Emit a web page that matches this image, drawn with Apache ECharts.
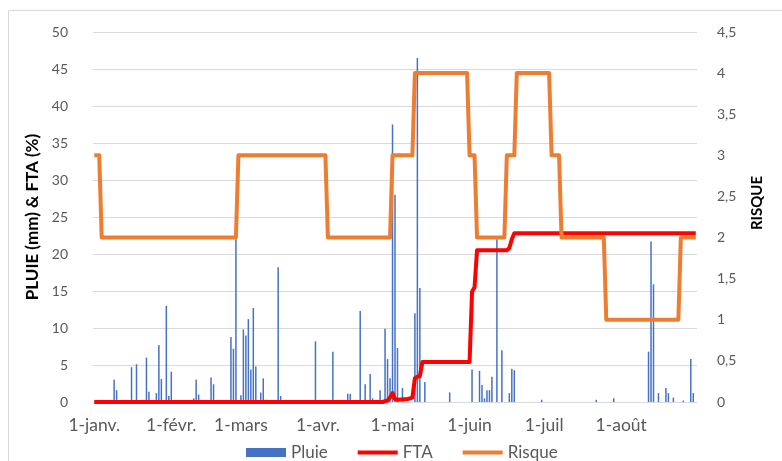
<!DOCTYPE html>
<html>
<head>
<meta charset="utf-8">
<script src="https://cdn.jsdelivr.net/npm/echarts@6/dist/echarts.min.js"></script>
<style>
html,body{margin:0;padding:0;background:#fff;}
#c{width:782px;height:461px;}
</style>
</head>
<body>
<div id="c"></div>
<script>
// ---- Data ----
const monthNames = ['janv.', 'févr.', 'mars', 'avr.', 'mai', 'juin', 'juil', 'août'];
const monthLengths = [31, 28, 31, 30, 31, 30, 31, 31];

// Rain (mm): day index (0 = 1 Jan) and value
const pluieDays = [3, 8, 9, 15, 17, 21, 22, 25, 26, 27, 29, 30, 31, 40, 41, 42, 43, 47, 48, 55, 56, 57, 59, 60, 61, 62, 63, 64, 65, 67, 68, 69, 71, 74, 75, 89, 96, 102, 103, 107, 109, 111, 112, 115, 117, 118, 119, 120, 121, 122, 124, 129, 130, 131, 133, 143, 152, 155, 156, 157, 158, 159, 160, 162, 164, 167, 168, 169, 180, 202, 209, 223, 224, 225, 227, 230, 231, 233, 237, 240, 241];
const pluieMm   = [0.3, 3.0, 1.6, 4.7, 5.1, 6.0, 1.4, 1.2, 7.7, 3.1, 13.0, 0.8, 4.1, 0.5, 3.0, 1.0, 0.3, 3.3, 2.4, 8.8, 7.2, 22.0, 0.9, 9.8, 9.0, 11.2, 4.4, 12.7, 4.8, 1.3, 3.2, 0.3, 0.2, 18.2, 0.8, 8.2, 6.8, 1.1, 1.1, 12.3, 2.4, 3.8, 0.5, 1.6, 9.9, 5.8, 3.2, 37.5, 28.0, 7.3, 1.9, 12.0, 46.5, 15.4, 2.7, 1.3, 4.4, 4.2, 2.3, 0.5, 1.6, 1.6, 3.4, 22.0, 7.0, 1.2, 4.5, 4.3, 0.3, 0.3, 0.5, 6.8, 21.7, 15.9, 1.2, 1.9, 1.2, 0.6, 0.2, 5.8, 1.2];

// FTA (%): vertices (day index, value)
const ftaDays   = [0, 116, 117, 118, 119, 120, 121, 122, 126, 127, 128, 129, 130, 131, 132, 151, 152, 153, 154, 166, 167, 168, 169, 242];
const ftaValues = [0, 0, 0.1, 0.2, 0.6, 1.2, 0.4, 0.3, 0.4, 0.5, 0.6, 3.2, 3.4, 3.5, 5.4, 5.4, 14.9, 15.5, 20.5, 20.5, 20.8, 22.0, 22.8, 22.8];

// Risque: vertices (day index, value)
const risqueDays   = [0, 2, 3, 57, 58, 93, 94, 119, 120, 128, 129, 150, 151, 153, 154, 165, 166, 169, 170, 183, 184, 187, 188, 205, 206, 235, 236, 242];
const risqueValues = [3, 3, 2, 2, 3, 3, 2, 2, 3, 3, 4, 4, 3, 3, 2, 2, 3, 3, 4, 4, 3, 3, 2, 2, 1, 1, 2, 2];

// ---- Categories (one per day, 1 Jan – 31 Aug) ----
const categories = [];
monthNames.forEach((m, i) => {
  for (let d = 1; d <= monthLengths[i]; d++) categories.push(d + '-' + m);
});

const pair = (xs, ys) => xs.map((x, i) => [x, ys[i]]);

const FONT = 'Lato, "Open Sans", sans-serif';
const LINE_ICON = 'path://M0,0 L40,0 L40,4 L0,4 Z';
const chart = echarts.init(document.getElementById('c'), null, {renderer: 'canvas'});
chart.setOption({
  animation: false,
  backgroundColor: '#fff',
  textStyle: {fontFamily: FONT},
  grid: {left: 93, right: 85, top: 32, bottom: 59, containLabel: false},
  graphic: [{
    type: 'rect', shape: {x: 8.5, y: 10.5, width: 800, height: 470},
    style: {fill: 'none', stroke: '#d9d9d9', lineWidth: 1}, silent: true, z: -1
  }],
  legend: {
    data: [{name: 'Pluie', icon: 'rect'}, {name: 'FTA', icon: LINE_ICON}, {name: 'Risque', icon: LINE_ICON}],
    left: 241, top: 439,
    itemWidth: 40, itemHeight: 9, itemGap: 30,
    textStyle: {color: '#595959', fontSize: 17, fontFamily: FONT}
  },
  xAxis: {
    type: 'category',
    data: categories,
    boundaryGap: true,
    axisLine: {show: true, lineStyle: {color: '#d9d9d9'}},
    axisTick: {show: false},
    axisLabel: {
      interval: (idx, val) => val.startsWith('1-'),
      color: '#595959', fontSize: 17.5, margin: 14, fontFamily: FONT
    },
    splitLine: {show: false}
  },
  yAxis: [{
    type: 'value', min: 0, max: 50, interval: 5,
    name: 'PLUIE (mm) & FTA (%)', nameLocation: 'middle', nameGap: 51, nameRotate: 90,
    nameTextStyle: {color: '#000', fontSize: 17, fontWeight: 'bold', fontFamily: FONT},
    axisLine: {show: false}, axisTick: {show: false},
    axisLabel: {color: '#595959', fontSize: 14, margin: 25, fontFamily: FONT},
    splitLine: {lineStyle: {color: '#d9d9d9', width: 1}}
  }, {
    type: 'value', min: 0, max: 4.5, interval: 0.5,
    name: 'RISQUE', nameLocation: 'middle', nameGap: 53, nameRotate: 90,
    nameTextStyle: {color: '#000', fontSize: 15, fontWeight: 'bold', fontFamily: FONT, padding: [0, 0, 0, 28]},
    axisLine: {show: false}, axisTick: {show: false},
    axisLabel: {color: '#595959', fontSize: 14, margin: 20, fontFamily: FONT,
      formatter: v => String(v).replace('.', ',')},
    splitLine: {show: false}
  }],
  series: [{
    name: 'Pluie', type: 'bar', yAxisIndex: 0,
    data: pair(pluieDays, pluieMm),
    barWidth: '60%',
    itemStyle: {color: '#4472C4'},
    z: 2
  }, {
    name: 'FTA', type: 'line', yAxisIndex: 0,
    data: pair(ftaDays, ftaValues),
    symbol: 'none', smooth: false,
    lineStyle: {color: '#FF0000', width: 4, join: 'round'},
    itemStyle: {color: '#FF0000'},
    z: 3
  }, {
    name: 'Risque', type: 'line', yAxisIndex: 1,
    data: pair(risqueDays, risqueValues),
    symbol: 'none', smooth: false,
    lineStyle: {color: '#ED7D31', width: 4, join: 'round'},
    itemStyle: {color: '#ED7D31'},
    z: 4
  }]
});
</script>
</body>
</html>
